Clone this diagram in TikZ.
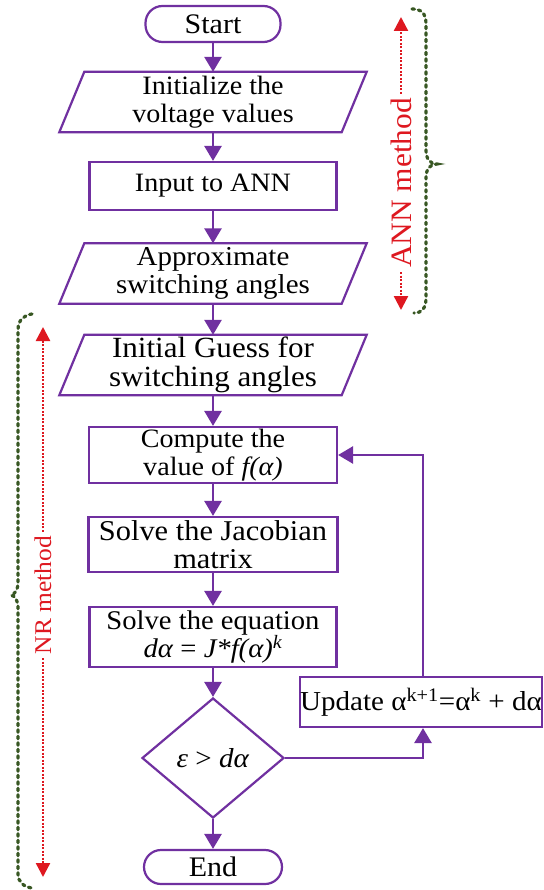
\documentclass[tikz,border=0pt]{standalone}
\usepackage{fontspec}
\setmainfont{Liberation Serif}[FakeStretch=1.06]
\usetikzlibrary{arrows.meta,shapes.geometric}
\definecolor{flow}{RGB}{112,48,160}
\definecolor{annred}{RGB}{222,24,32}
\definecolor{brgreen}{RGB}{56,87,35}
\newcommand\fsz[1]{\fontsize{#1}{28.5}\selectfont}
\newcommand\ioshape[1]{\draw[draw=flow, line width=2.2pt, line join=miter]
  ([xshift=-12.5pt]#1.south west) -- ([xshift=12.5pt]#1.north west) --
  ([xshift=12.5pt]#1.north east) -- ([xshift=-12.5pt]#1.south east) -- cycle;}
\begin{document}
\begin{tikzpicture}[x=1pt,y=-1pt,
  box/.style={draw=flow, line width=2.2pt, rectangle, align=center, inner sep=0pt, font=\fsz{26.5}},
  term/.style={box, rounded corners=17pt},
  iobody/.style={rectangle, align=center, inner sep=0pt, font=\fsz{26.5}, minimum width=282pt, minimum height=60pt},
  decision/.style={draw=flow, line width=2.2pt, diamond, aspect=1.18, inner sep=0pt, minimum width=142pt, minimum height=120pt, font=\fsz{27.4}},
  flowarrow/.style={draw=flow, line width=2.8pt, -{Triangle[width=17pt,length=15pt]}},
  redarrow/.style={draw=annred, line width=2.4pt, dash pattern=on 2pt off 1.5pt, -{Triangle[width=14pt,length=14pt]}},
  braceline/.style={draw=brgreen, line width=3.2pt, line cap=round, dash pattern=on 2.5pt off 4pt},
  labelrot/.style={text=annred, rotate=90, inner sep=4pt}]
\fill[white] (0,0) rectangle (543,890);
\useasboundingbox (0,0) rectangle (543,890);

% flow nodes
\node[term, minimum width=135pt, minimum height=36pt, font=\fsz{28.3}] (start) at (213,24) {Start};
\node[iobody] (init) at (213,102) {Initialize the\\voltage values};
\node[box, minimum width=247pt, minimum height=48pt] (ann) at (213,186) {Input to ANN};
\node[iobody, font=\fsz{27.3}] (approx) at (213,273.5) {Approximate\\switching angles};
\node[iobody, font=\fsz{29.3}] (guess) at (213,365) {Initial Guess for\\switching angles};
\node[box, minimum width=248pt, minimum height=56pt] (comp) at (213,455) {Compute the\\value of \textit{f(α)}};
\node[box, minimum width=249pt, minimum height=55pt, font=\fsz{28.7}] (jac) at (213,544.5) {Solve the Jacobian\\matrix};
\node[box, minimum width=247pt, minimum height=60pt, font=\fsz{27}] (eq) at (213,637) {Solve the equation\\\textit{dα} = \textit{J*f(α)}\textsuperscript{\textit{k}}};
\node[decision] (dec) at (213,758) {\textit{ε} > \textit{dα}};
\node[term, minimum width=138pt, minimum height=34pt, font=\fsz{28.3}] (end) at (213,867) {End};
\node[box, minimum width=241pt, minimum height=50pt, font=\fsz{27.4}] (upd) at (421,702) {Update α\textsuperscript{k+1}=α\textsuperscript{k} + dα};

\ioshape{init}
\ioshape{approx}
\ioshape{guess}

% connectors
\draw[flowarrow] (start) -- (init);
\draw[flowarrow] (init) -- (ann);
\draw[flowarrow] (ann) -- (approx);
\draw[flowarrow] (approx) -- (guess);
\draw[flowarrow] (guess) -- (comp);
\draw[flowarrow] (comp) -- (jac);
\draw[flowarrow] (jac) -- (eq);
\draw[flowarrow] (eq) -- (dec);
\draw[flowarrow] (dec) -- (end);
\coordinate (fb) at (423,455);
\draw[flowarrow] (upd.north -| fb) -- (fb) -- (comp.east);
\draw[flowarrow] (dec.east) -| (upd.south -| fb);

% ANN annotation
\node[labelrot, font=\fsz{29.6}] (annlbl) at (401,183) {ANN method};
\coordinate (anntop) at (401,17);
\coordinate (annbot) at (401,310);
\draw[redarrow] (annlbl.east) -- (anntop);
\draw[redarrow] (annlbl.west) -- (annbot);
\draw[braceline] (412,9) .. controls (421,9) and (426,13) .. (426,24) -- (426,150)
  .. controls (426,159) and (430,164) .. (437,164)
  .. controls (430,164) and (426,169) .. (426,178) -- (426,298)
  .. controls (426,308) and (422,313) .. (414,313);

% NR annotation
\node[labelrot, font=\fsz{24}] (nrlbl) at (43,595) {NR method};
\coordinate (nrtop) at (43,327);
\coordinate (nrbot) at (43,877);
\draw[redarrow] (nrlbl.east) -- (nrtop);
\draw[redarrow] (nrlbl.west) -- (nrbot);
\draw[braceline] (32,314) .. controls (24,315) and (18,320) .. (18,330) -- (18,582)
  .. controls (18,590) and (15,594) .. (11,595)
  .. controls (15,596) and (18,600) .. (18,608) -- (18,874)
  .. controls (18,882) and (24,887) .. (32,888);
\end{tikzpicture}
\end{document}
